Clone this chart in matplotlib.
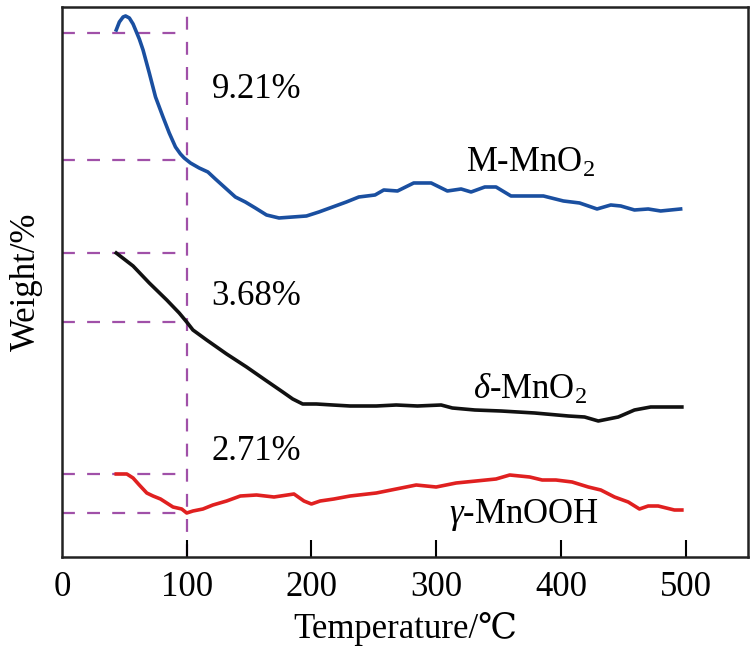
import numpy as np
import matplotlib
matplotlib.use('Agg')
from matplotlib import pyplot as plt

plt.rcParams['font.family'] = ['Liberation Serif', 'DejaVu Serif', 'Noto Sans CJK SC']
plt.rcParams['mathtext.fontset'] = 'custom'
plt.rcParams['mathtext.rm'] = 'Liberation Serif'
plt.rcParams['mathtext.it'] = 'Liberation Serif:italic'

# curves: temperature (C) and relative weight (arbitrary offset units)
m_temp = [43.5, 46, 49, 51, 54, 57, 59, 62, 65, 70, 75, 81, 86, 91, 95, 98, 103,
          110, 117, 123, 131, 139, 147, 155, 164, 174, 185, 196, 206, 217, 228,
          238, 251, 258, 269, 282, 296, 309, 320, 328, 339, 348, 360, 373, 386,
          402, 415, 429, 440, 448, 459, 470, 480, 496]
m_wt = [527, 535, 540, 541, 539, 533, 527, 518, 507, 484, 460, 440, 424, 410, 403,
        399, 394, 389, 385, 378, 369, 360, 355, 349, 342, 339, 340, 341, 345, 350,
        355, 360, 362, 367, 366, 374, 374, 366, 368, 365, 370, 370, 361, 361, 361,
        356, 354, 348, 352, 351, 347, 348, 346, 348]

d_temp = [43.5, 57, 70, 84, 94, 100, 105, 116, 132, 148, 163, 177, 185, 193, 204,
          217, 231, 252, 268, 285, 304, 313, 331, 352, 379, 406, 419, 430, 446, 459,
          472, 489, 497]
d_wt = [304, 291, 274, 257, 244, 235, 227, 217, 203, 190, 177, 165, 158, 153, 153,
        152, 151, 151, 152, 151, 152, 149, 147, 146, 144, 141, 140, 136, 140, 147,
        150, 150, 150]

r_temp = [43.5, 52, 57, 62, 68, 73, 79, 84, 89, 96, 100, 105, 113, 121, 132, 143,
          156, 170, 186, 194, 200, 207, 218, 231, 245, 252, 268, 284, 300, 316, 332,
          348, 359, 375, 385, 396, 409, 422, 432, 443, 454, 463, 470, 478, 491, 497]
r_wt = [83, 83, 79, 72, 64, 61, 58, 54, 50, 48, 44, 46, 48, 52, 56, 61, 62, 60, 63,
        56, 53, 56, 58, 61, 63, 64, 68, 72, 70, 74, 76, 78, 82, 80, 77, 77, 75, 70,
        67, 60, 55, 48, 51, 51, 47, 47]

# weight-loss guides: weight at start and at 100 C for each sample
guide_levels = [(524, 397), (304, 235), (83, 44)]
loss_text = ['9.21%', '3.68%', '2.71%']
loss_y = [467, 260, 105]

fig = plt.figure(figsize=(7.54, 6.52), dpi=100)
ax = fig.add_axes([0.0822, 0.1457, 0.9098, 0.8436])

purple = '#a050a8'
for top, low in guide_levels:
    for lev in (top, low):
        ax.plot([0, 100], [lev, lev], color=purple, lw=1.6, dashes=(5.8, 5.5), zorder=1)
ax.axvline(100, color=purple, lw=1.6, dashes=(5.8, 5.5), zorder=1)

ax.plot(m_temp, m_wt, color='#1a4fa0', lw=2.6, zorder=3)
ax.plot(d_temp, d_wt, color='#111111', lw=2.6, zorder=3)
ax.plot(r_temp, r_wt, color='#e02020', lw=2.6, zorder=3)

for txt, yy in zip(loss_text, loss_y):
    ax.text(120, yy, txt, fontsize=25, ha='left', va='center')

ax.text(376, 394, 'M-MnO$_2$', fontsize=25, ha='center', va='center')
ax.text(375, 167, r'$\mathit{\delta}$-MnO$_2$', fontsize=25, ha='center', va='center')
ax.text(370, 42, r'$\mathit{\gamma}$-MnOOH', fontsize=25, ha='center', va='center')

ax.set_xlim(0, 550)
ax.set_ylim(0, 550)
ax.set_xticks([0, 100, 200, 300, 400, 500])
ax.set_yticks([])
ax.tick_params(axis='x', direction='in', length=12, width=1.5, labelsize=25, pad=10)
ax.xaxis.get_major_ticks()[0].tick1line.set_visible(False)
for s in ax.spines.values():
    s.set_linewidth(1.8)
    s.set_color('#222222')

ax.set_xlabel('Temperature/℃', fontsize=25, labelpad=6)
ax.set_ylabel('Weight/%', fontsize=25, labelpad=14)

fig.savefig('out.png', dpi=100)
